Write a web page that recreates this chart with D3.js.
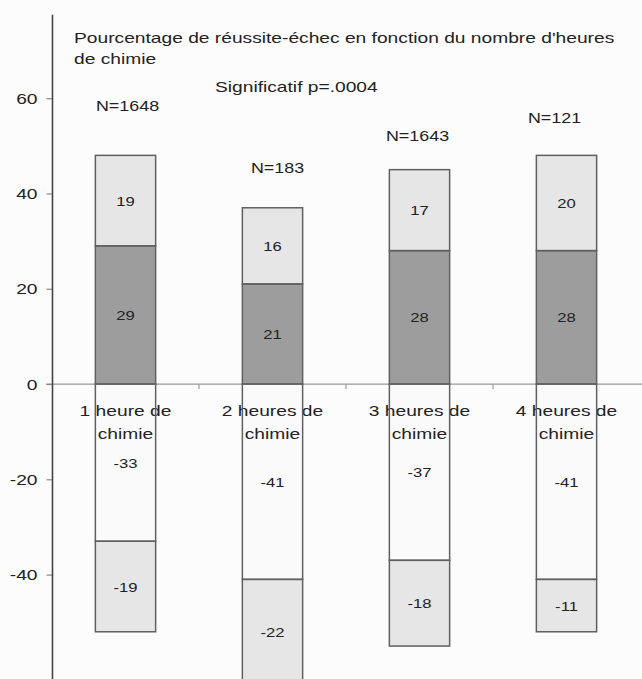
<!DOCTYPE html>
<html>
<head>
<meta charset="utf-8">
<script src="https://cdn.jsdelivr.net/npm/d3@7"></script>
<style>
  html, body { margin: 0; padding: 0; background: #fcfcfc; }
  svg { display: block; }
  text { font-family: "Liberation Sans", Arial, sans-serif; fill: #222; }
</style>
</head>
<body>
<svg id="chart" width="642" height="679"></svg>
<script>
// ---- Data ----
const categories = ["1 heure de chimie", "2 heures de chimie", "3 heures de chimie", "4 heures de chimie"];
const categoryLines = [["1 heure de", "chimie"], ["2 heures de", "chimie"], ["3 heures de", "chimie"], ["4 heures de", "chimie"]];
const nLabels = ["N=1648", "N=183", "N=1643", "N=121"];
const nLabelLevel = [57.3, 44.3, 51.0, 54.8];   // vertical level (chart units) of the N annotations
const reussite1 = [29, 21, 28, 28];    // dark grey, above 0
const reussite2 = [19, 16, 17, 20];    // light grey, above dark
const echec1 = [-33, -41, -37, -41];   // white, below 0
const echec2 = [-19, -22, -18, -11];   // light grey, below white
const yTicks = [60, 40, 20, 0, -20, -40];
const titleLines = ["Pourcentage de réussite-échec en fonction du nombre d'heures", "de chimie"];
const subtitle = "Significatif p=.0004";

// ---- Build table ----
const keys = ["reussite1", "reussite2", "echec1", "echec2"];
const colors = { reussite1: "#9d9d9d", reussite2: "#e6e6e6", echec1: "#fafafa", echec2: "#e6e6e6" };
const table = categories.map((c, i) => ({
  cat: c, reussite1: reussite1[i], reussite2: reussite2[i], echec1: echec1[i], echec2: echec2[i]
}));
const series = d3.stack().keys(keys).offset(d3.stackOffsetDiverging)(table);

// ---- Scales ----
const SX = 1.28; // horizontal stretch of lettering in the reference
const svg = d3.select("#chart");
const x = d3.scaleBand().domain(categories).range([52, 640]).paddingInner(0.59).paddingOuter(0.295);
const y = d3.scaleLinear().domain([-40, 60]).range([574.6, 98.2]);
const step = x.step();

function stretchedText(sel, px, py, str, size, anchor) {
  return sel.append("text")
    .attr("transform", `translate(${px},${py}) scale(${SX},1)`)
    .attr("text-anchor", anchor || "start")
    .style("font-size", size + "px")
    .text(str);
}

// ---- X axis line at zero ----
const xAxisG = svg.append("g");
xAxisG.append("line")
  .attr("x1", 46).attr("x2", 642)
  .attr("y1", y(0)).attr("y2", y(0))
  .attr("stroke", "#9a9a9a").attr("stroke-width", 1.2);
// tick marks at band boundaries
const boundaries = categories.slice(1).map(c => x(c) - (step - x.bandwidth()) / 2);
xAxisG.selectAll("line.tk").data(boundaries).join("line")
  .attr("class", "tk")
  .attr("x1", d => d).attr("x2", d => d)
  .attr("y1", y(0)).attr("y2", y(0) + 5)
  .attr("stroke", "#9a9a9a").attr("stroke-width", 1.2);

// ---- Bar fills ----
const barG = svg.append("g");
series.forEach(s => {
  barG.selectAll(null).data(s).join("rect")
    .attr("x", d => x(d.data.cat))
    .attr("width", x.bandwidth())
    .attr("y", d => y(Math.max(d[0], d[1])))
    .attr("height", d => Math.abs(y(d[0]) - y(d[1])))
    .attr("fill", colors[s.key]);
});

// ---- Category labels (drawn under the bar outlines) ----
const catG = svg.append("g");
categoryLines.forEach((lines, i) => {
  const cx = x(categories[i]) + x.bandwidth() / 2;
  lines.forEach((ln, j) => {
    stretchedText(catG, cx, 416 + j * 23, ln, 15, "middle");
  });
});

// ---- Bar outlines ----
const outG = svg.append("g");
series.forEach(s => {
  outG.selectAll(null).data(s).join("rect")
    .attr("x", d => x(d.data.cat))
    .attr("width", x.bandwidth())
    .attr("y", d => y(Math.max(d[0], d[1])))
    .attr("height", d => Math.abs(y(d[0]) - y(d[1])))
    .attr("fill", "none")
    .attr("stroke", "#606060").attr("stroke-width", 1.5);
});

// ---- Value labels ----
const valG = svg.append("g");
series.forEach(s => {
  s.forEach(d => {
    const v = d.data[s.key];
    const cx = x(d.data.cat) + x.bandwidth() / 2;
    const cy = y((d[0] + d[1]) / 2);
    stretchedText(valG, cx, cy + 5, String(v), 13, "middle");
  });
});

// ---- N annotations ----
const nOffsets = [2, 5, -2, -12];
nLabels.forEach((t, i) => {
  const cx = x(categories[i]) + x.bandwidth() / 2 + nOffsets[i];
  stretchedText(svg, cx, y(nLabelLevel[i]), t, 14, "middle");
});

// ---- Y axis ----
const yAxis = d3.axisLeft(y).tickValues(yTicks).tickSize(6).tickFormat(d => String(d));
const yG = svg.append("g").attr("transform", "translate(52.5,0)").call(yAxis);
yG.select(".domain").remove();
yG.selectAll(".tick line").attr("stroke", "#8a8a8a").attr("stroke-width", 1.2);
yG.selectAll(".tick text")
  .attr("x", null).attr("dy", null)
  .attr("transform", `translate(-15,5) scale(${SX},1)`)
  .style("font-size", "15px")
  .style("font-family", "Liberation Sans, Arial, sans-serif")
  .attr("fill", "#222");
yG.append("line")
  .attr("x1", 0).attr("x2", 0)
  .attr("y1", y(77.5)).attr("y2", 679)
  .attr("stroke", "#444").attr("stroke-width", 1.6);

// ---- Titles ----
titleLines.forEach((t, i) => stretchedText(svg, 74, 43 + i * 21, t, 15, "start"));
stretchedText(svg, 215, 92, subtitle, 15, "start");
</script>
</body>
</html>
